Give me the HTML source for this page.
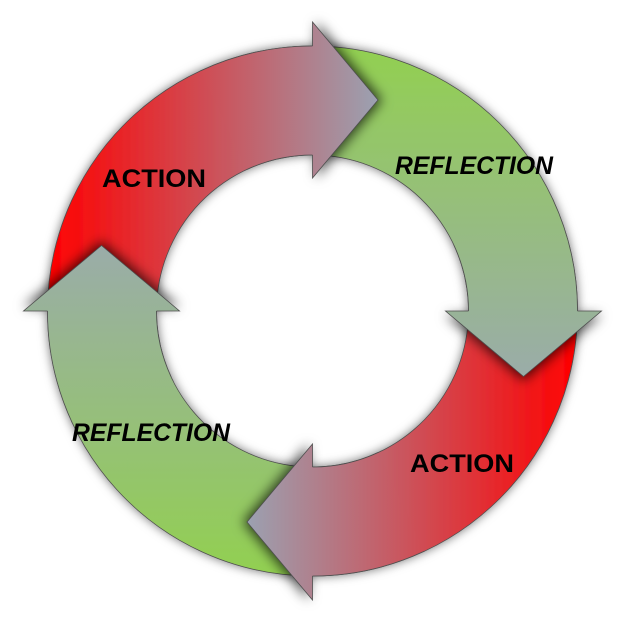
<!DOCTYPE html>
<html>
<head>
<meta charset="utf-8">
<style>
  html,body{margin:0;padding:0;background:#fff;}
  svg{display:block;}
  .lbl{font-family:"Liberation Sans",Arial,sans-serif;font-weight:bold;font-size:25px;fill:#000;}
  .it{font-style:italic;}
</style>
</head>
<body>
<svg width="624" height="623" viewBox="0 0 624 623" xmlns="http://www.w3.org/2000/svg">
  <defs>
    <linearGradient id="gr" gradientUnits="userSpaceOnUse" x1="-265" y1="0" x2="65" y2="0">
      <stop offset="0" stop-color="#ff0000"/>
      <stop offset="1" stop-color="#9ba1b1"/>
    </linearGradient>
    <linearGradient id="gg" gradientUnits="userSpaceOnUse" x1="-265" y1="0" x2="65" y2="0">
      <stop offset="0" stop-color="#92d050"/>
      <stop offset="1" stop-color="#9aaca9"/>
    </linearGradient>

    <filter id="sh" filterUnits="userSpaceOnUse" x="-400" y="-400" width="800" height="800">
      <feGaussianBlur in="SourceAlpha" stdDeviation="5" result="b"/>
      <feFlood flood-color="#000" flood-opacity="0.55"/>
      <feComposite in2="b" operator="in" result="s"/>
      <feMerge><feMergeNode in="s"/><feMergeNode in="SourceGraphic"/></feMerge>
    </filter>
    <filter id="shOnly" filterUnits="userSpaceOnUse" x="-400" y="-400" width="800" height="800">
      <feGaussianBlur in="SourceAlpha" stdDeviation="6"/>
      <feOffset dx="4" dy="0" result="b"/>
      <feFlood flood-color="#000" flood-opacity="0.7"/>
      <feComposite in2="b" operator="in"/>
    </filter>

    <path id="shaft" d="M -264.575 -15 A 265 265 0 0 1 10 -264.811 L 10 -155.679 A 156 156 0 0 0 -155.277 -15 Z"/>
    <path id="shaftArcs" d="M -264.575 -15 A 265 265 0 0 1 10 -264.811 M 10 -155.679 A 156 156 0 0 0 -155.277 -15"/>
    <path id="shaftEnd" d="M -111.99 -240.17 A 265 265 0 0 1 10 -264.811 L 10 -155.679 A 156 156 0 0 0 -65.93 -141.38 Z"/>
    <path id="endArcs" d="M -111.99 -240.17 A 265 265 0 0 1 10 -264.811 M 10 -155.679 A 156 156 0 0 0 -65.93 -141.38"/>
    <path id="head" d="M 0 -289 L 65.5 -211 L 0 -133 Z"/>
    <path id="headStroke" d="M 0 -265 L 0 -289 L 65.5 -211 L 0 -133 L 0 -156"/>
  </defs>

  <!-- PASS 1: shafts -->
  <g transform="translate(312.5 311) rotate(0)">
    <g filter="url(#sh)">
      <use href="#shaft" fill="url(#gr)"/>
      <use href="#shaftArcs" fill="none" stroke="#4f4f4f" stroke-width="0.8"/>
    </g>
  </g>
  <g transform="translate(312.5 311) rotate(90)">
    <g filter="url(#sh)">
      <use href="#shaft" fill="url(#gg)"/>
      <use href="#shaftArcs" fill="none" stroke="#4f4f4f" stroke-width="0.8"/>
    </g>
  </g>
  <g transform="translate(312.5 311) rotate(180)">
    <g filter="url(#sh)">
      <use href="#shaft" fill="url(#gr)"/>
      <use href="#shaftArcs" fill="none" stroke="#4f4f4f" stroke-width="0.8"/>
    </g>
  </g>
  <g transform="translate(312.5 311) rotate(270)">
    <g filter="url(#sh)">
      <use href="#shaft" fill="url(#gg)"/>
      <use href="#shaftArcs" fill="none" stroke="#4f4f4f" stroke-width="0.8"/>
    </g>
  </g>

  <!-- PASS 2: heads -->
  <g transform="translate(312.5 311) rotate(0)">
    <use href="#head" filter="url(#shOnly)"/>
    <use href="#shaftEnd" fill="url(#gr)"/>
    <use href="#endArcs" fill="none" stroke="#4f4f4f" stroke-width="0.8"/>
    <use href="#head" fill="url(#gr)"/>
    <use href="#headStroke" fill="none" stroke="#4f4f4f" stroke-width="0.8"/>
  </g>
  <g transform="translate(312.5 311) rotate(90)">
    <use href="#head" filter="url(#shOnly)"/>
    <use href="#shaftEnd" fill="url(#gg)"/>
    <use href="#endArcs" fill="none" stroke="#4f4f4f" stroke-width="0.8"/>
    <use href="#head" fill="url(#gg)"/>
    <use href="#headStroke" fill="none" stroke="#4f4f4f" stroke-width="0.8"/>
  </g>
  <g transform="translate(312.5 311) rotate(180)">
    <use href="#head" filter="url(#shOnly)"/>
    <use href="#shaftEnd" fill="url(#gr)"/>
    <use href="#endArcs" fill="none" stroke="#4f4f4f" stroke-width="0.8"/>
    <use href="#head" fill="url(#gr)"/>
    <use href="#headStroke" fill="none" stroke="#4f4f4f" stroke-width="0.8"/>
  </g>
  <g transform="translate(312.5 311) rotate(270)">
    <use href="#head" filter="url(#shOnly)"/>
    <use href="#shaftEnd" fill="url(#gg)"/>
    <use href="#endArcs" fill="none" stroke="#4f4f4f" stroke-width="0.8"/>
    <use href="#head" fill="url(#gg)"/>
    <use href="#headStroke" fill="none" stroke="#4f4f4f" stroke-width="0.8"/>
  </g>

  <!-- Labels -->
  <text class="lbl" x="102" y="187" textLength="104" lengthAdjust="spacingAndGlyphs">ACTION</text>
  <text class="lbl it" x="395" y="174" textLength="158" lengthAdjust="spacingAndGlyphs">REFLECTION</text>
  <text class="lbl" x="410" y="472" textLength="104" lengthAdjust="spacingAndGlyphs">ACTION</text>
  <text class="lbl it" x="72" y="441" textLength="158" lengthAdjust="spacingAndGlyphs">REFLECTION</text>
</svg>
</body>
</html>
